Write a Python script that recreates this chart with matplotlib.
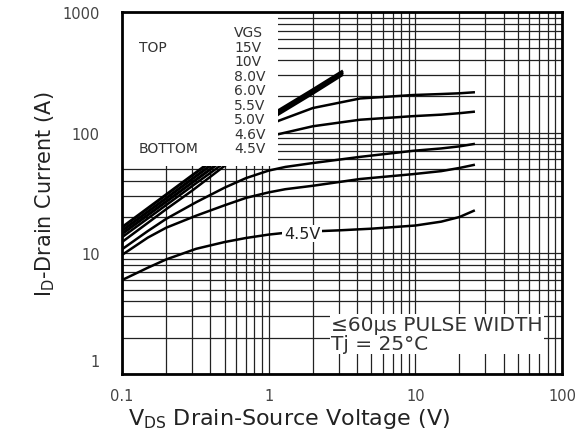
import matplotlib.pyplot as plt
import matplotlib.patches as mpatches
import matplotlib.transforms as mtransforms
from matplotlib.ticker import LogLocator, FixedLocator, NullFormatter

# output characteristics (V_DS in V, I_D in A)
v_45 = [0.1, 0.15, 0.2, 0.32, 0.5, 0.7, 1.0, 1.3, 2.0, 3.0, 5.0, 10, 15, 20, 25]
i_45 = [6.0, 7.6, 8.9, 10.9, 12.4, 13.4, 14.3, 14.8, 15.2, 15.5, 16.0, 17.0, 18.3, 20.0, 22.5]

v_46 = [0.1, 0.15, 0.2, 0.32, 0.5, 0.7, 1.0, 1.3, 2, 4.2, 9.6, 15, 20, 25]
i_46 = [9.7, 13.5, 16.3, 20.5, 25, 28.8, 32, 34, 36.3, 41.3, 45.3, 48, 51, 54]

v_50 = [0.1, 0.15, 0.2, 0.32, 0.5, 0.7, 1.0, 1.3, 2, 4.2, 9.6, 15, 20, 25]
i_50 = [10.8, 15.3, 19.3, 26.5, 35, 42, 48.5, 52, 56, 63, 70.7, 74, 77, 80.5]

v_55 = [0.1, 0.2, 0.3, 0.5, 0.8, 1.16, 2, 4.2, 9.6, 15, 20, 25]
i_55 = [12.4, 23.2, 33, 53, 78, 97, 113, 128, 137, 141, 145, 149]

v_60 = [0.1, 0.2, 0.3, 0.466, 0.8, 1.16, 2, 4.2, 9.6, 15, 20, 25]
i_60 = [13.6, 25.1, 36, 53, 92, 125, 160, 192, 205, 209, 212, 216]

v_80 = [0.1, 0.2, 0.43, 0.8, 1.16, 2, 3.15]
i_80 = [14.5, 26.8, 53, 97, 142, 212, 300]

v_10 = [0.1, 0.2, 0.397, 0.8, 1.16, 2, 3.15]
i_10 = [15.4, 28.6, 53, 104, 147, 220, 310]

v_15 = [0.1, 0.2, 0.368, 0.8, 1.16, 2, 3.15]
i_15 = [16.4, 30.6, 53, 110, 152, 227, 320]

legend_vgs = ['VGS', '15V', '10V', '8.0V', '6.0V', '5.5V', '5.0V', '4.6V', '4.5V']

x_ticks = [0.1, 1, 10, 100]
x_tick_labels = ['0.1', '1', '10', '100']
y_ticks = [1, 10, 100, 1000]
y_tick_labels = ['1', '10', '100', '1000']

W, H = 578, 439
fig = plt.figure(figsize=(W / 100, H / 100), dpi=100)
ax_l, ax_r, ax_t, ax_b = 122, 562, 13, 375
ax = fig.add_axes([ax_l / W, 1 - ax_b / H, (ax_r - ax_l) / W, (ax_b - ax_t) / H])

ax.set_xscale('log')
ax.set_yscale('log')
ax.set_xlim(0.1, 100)
ax.set_ylim(1, 1000)

# grid: every 1..9 step in each decade
ax.xaxis.set_major_locator(FixedLocator(x_ticks))
ax.yaxis.set_major_locator(FixedLocator(y_ticks))
ax.xaxis.set_minor_locator(LogLocator(base=10, subs=range(2, 10)))
ax.yaxis.set_minor_locator(LogLocator(base=10, subs=range(2, 10)))
ax.xaxis.set_minor_formatter(NullFormatter())
ax.yaxis.set_minor_formatter(NullFormatter())
ax.set_xticklabels(x_tick_labels)
ax.set_yticklabels(y_tick_labels)
ax.grid(True, which='both', color='#222222', linewidth=0.9, zorder=0)
ax.set_axisbelow(True)
ax.tick_params(which='both', length=0, labelsize=10.5, labelcolor='#444444')
ax.tick_params(axis='x', pad=10)
ax.tick_params(axis='y', pad=16)

for s in ax.spines.values():
    s.set_linewidth(2.0)
    s.set_zorder(10)

# the '1' label sits a bit higher than the axis line
ylabels = ax.get_yticklabels()
ylabels[0].set_transform(ylabels[0].get_transform() +
                         mtransforms.ScaledTranslation(0, 14 / 100, fig.dpi_scale_trans))

curves = [(v_45, i_45), (v_46, i_46), (v_50, i_50), (v_55, i_55), (v_60, i_60)]
for v, i in curves:
    ax.plot(v, i, color='black', linewidth=1.8, zorder=3)
for v, i in [(v_80, i_80), (v_10, i_10), (v_15, i_15)]:
    ax.plot(v, i, color='black', linewidth=2.2, zorder=3)

# white legend panel in the upper-left corner
trans = ax.transAxes
ax.add_patch(mpatches.Rectangle((0, (ax_b - 167) / (ax_b - ax_t)),
                                (278 - ax_l) / (ax_r - ax_l), 1,
                                transform=trans, facecolor='white',
                                edgecolor='none', zorder=5))

def fx(px):
    return (px - ax_l) / (ax_r - ax_l)

def fy(py):
    return (ax_b - py) / (ax_b - ax_t)

legend_y = [33, 47.7, 62.3, 77.3, 90.7, 106, 120, 135, 149]
for lab, py in zip(legend_vgs, legend_y):
    ax.text(fx(234), fy(py), lab, transform=trans, fontsize=10,
            color='#333333', ha='left', va='center', zorder=6)
ax.text(fx(139), fy(47.7), 'TOP', transform=trans, fontsize=10,
        color='#333333', ha='left', va='center', zorder=6)
ax.text(fx(139), fy(149), 'BOTTOM', transform=trans, fontsize=10,
        color='#333333', ha='left', va='center', zorder=6)

# curve label on the bottom trace
ax.text(1.69, 14.6, '4.5V', fontsize=11.5, color='#222222', ha='center',
        va='center', zorder=6,
        bbox=dict(facecolor='white', edgecolor='none', pad=1.0))

# test condition note
ax.text(fx(331), fy(335), '\u226460\u00b5s PULSE WIDTH\nTj = 25\u00b0C',
        transform=trans, fontsize=14.5, color='#333333', ha='left', va='center',
        linespacing=1.0, zorder=6,
        bbox=dict(facecolor='white', edgecolor='none', pad=1.0))

ax.set_xlabel(r'V$_{\rm DS}$ Drain-Source Voltage (V)', fontsize=16, color='#222222')
ax.xaxis.set_label_coords(fx(289), fy(407), transform=trans)
ax.set_ylabel(r'I$_{\rm D}$-Drain Current (A)', fontsize=15, color='#222222')
ax.yaxis.set_label_coords(fx(57), fy(194), transform=trans)

fig.savefig('out.png', dpi=100, facecolor='white')
